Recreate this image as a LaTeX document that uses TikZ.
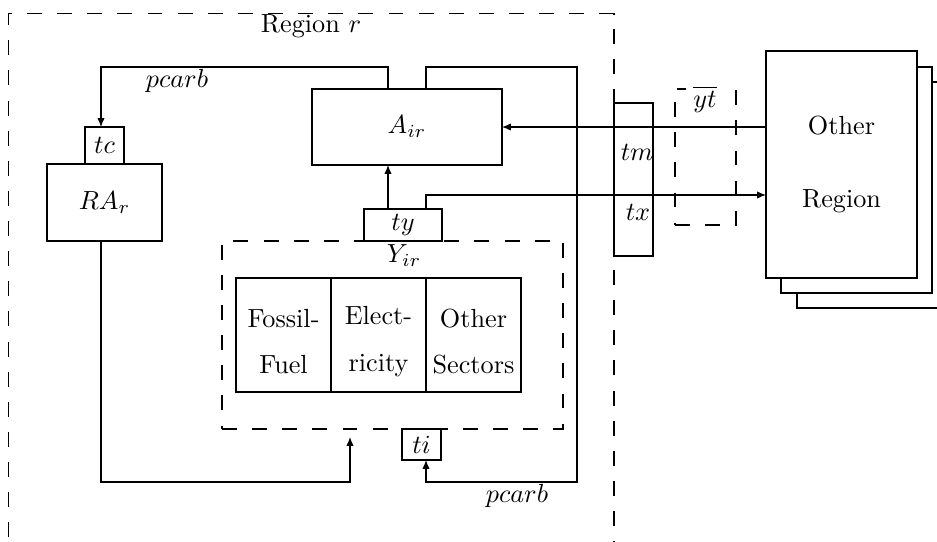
\documentclass[tikz,border=0pt]{standalone}
\usetikzlibrary{arrows.meta,calc}
\newcommand\pxu{0.3817pt}
\begin{document}
\begin{tikzpicture}[x=0.3817pt,y=-0.3817pt,
  box/.style={draw, line width=0.4pt, inner sep=0pt, outer sep=0pt, align=center},
  dbox/.style={box, dash pattern=on 5.7pt off 5.8pt},
  arr/.style={line width=0.4pt, -{Latex[length=3.4pt,width=2.8pt]}},
  lbl/.style={inner sep=0pt, outer sep=0pt}]
\useasboundingbox (0,0) rectangle (937,542);
\clip (0,0) rectangle (937,542);

% outer region
\node[dbox, minimum width=605.5*\pxu, minimum height=600*\pxu] (region) at (311.25,313.5) {};
\node[lbl] (regionlbl) at (311,26) {Region $r$};

% A box and small boxes
\node[box, minimum width=190*\pxu, minimum height=76*\pxu] (A) at (407,127) {$A_{ir}$};
\node[box, minimum width=78*\pxu, minimum height=32*\pxu] (ty) at (403,225) {$ty$};
\node[box, minimum width=39*\pxu, minimum height=37*\pxu] (tc) at (104.5,145.5) {$tc$};
\node[box, minimum width=115*\pxu, minimum height=77*\pxu] (RA) at (104.5,202.5) {$RA_r$};

% Y region
\node[dbox, minimum width=341*\pxu, minimum height=188*\pxu] (Y) at (392.5,335) {};
\node[lbl] (Ylbl) at (404,256) {$Y_{ir}$};
\node[box, minimum width=95*\pxu, minimum height=114*\pxu] (F) at (283.5,335) {\rule{0pt}{12pt}Fossil-\\[5.6pt]Fuel};
\node[box, minimum width=95*\pxu, minimum height=114*\pxu] (E) at (378.5,335) {\rule{0pt}{12pt}Elect-\\[5.6pt]ricity};
\node[box, minimum width=95*\pxu, minimum height=114*\pxu] (S) at (473.5,335) {\rule{0pt}{12pt}Other\\[5.6pt]Sectors};
\node[box, minimum width=39*\pxu, minimum height=31*\pxu] (ti) at (421.5,444.5) {$ti$};

% trade box
\node[box, minimum width=39*\pxu, minimum height=153*\pxu] (T) at (633.5,179.5) {};
\node[lbl] (tm) at (637,152) {$tm$};
\node[lbl] (tx) at (638,212) {$tx$};

% yt dashed box
\node[dbox, minimum width=61*\pxu, minimum height=136*\pxu] (yt) at (705.5,157) {};
\node[lbl, fill=white, inner xsep=3pt, inner ysep=1pt] (ytlbl) at (705,99) {$\overline{yt}$};

% other regions stack
\node[box, fill=white, minimum width=151*\pxu, minimum height=226*\pxu] (O3) at (872.5,195) {};
\node[box, fill=white, minimum width=151*\pxu, minimum height=226*\pxu] (O2) at (856.5,180) {};
\node[box, fill=white, minimum width=151*\pxu, minimum height=227*\pxu] (O1) at (841.5,164.5) {Other\\[15.9pt]Region};

% route coordinates
\coordinate (c1) at (101,67);
\coordinate (c2) at (577,67);
\coordinate (c3) at (577,482);
\coordinate (c4) at (101,482);
\coordinate (c5) at (350,437);
\coordinate (c6) at (0,195);

% connectors
\draw[arr] ([xshift=-19*\pxu]A.north) |- (c1) -- (c1 |- tc.north);
\draw[arr] ([xshift=19*\pxu]A.north) |- (c2) -- (c3) -| ([xshift=4.5*\pxu]ti.south);
\draw[arr] (c4 |- RA.south) -- (c4) -| (c5);
\draw[arr] (O1.west |- A.east) -- (A.east);
\draw[arr] ([xshift=23*\pxu]ty.north) |- (O1.west |- c6);
\draw[arr] ([xshift=-15*\pxu]ty.north) -- ([xshift=-15*\pxu]ty.north |- A.south);

% labels
\node[lbl] (pc1) at (177,81) {$pcarb$};
\node[lbl] (pc2) at (517,496) {$pcarb$};
\end{tikzpicture}
\end{document}
